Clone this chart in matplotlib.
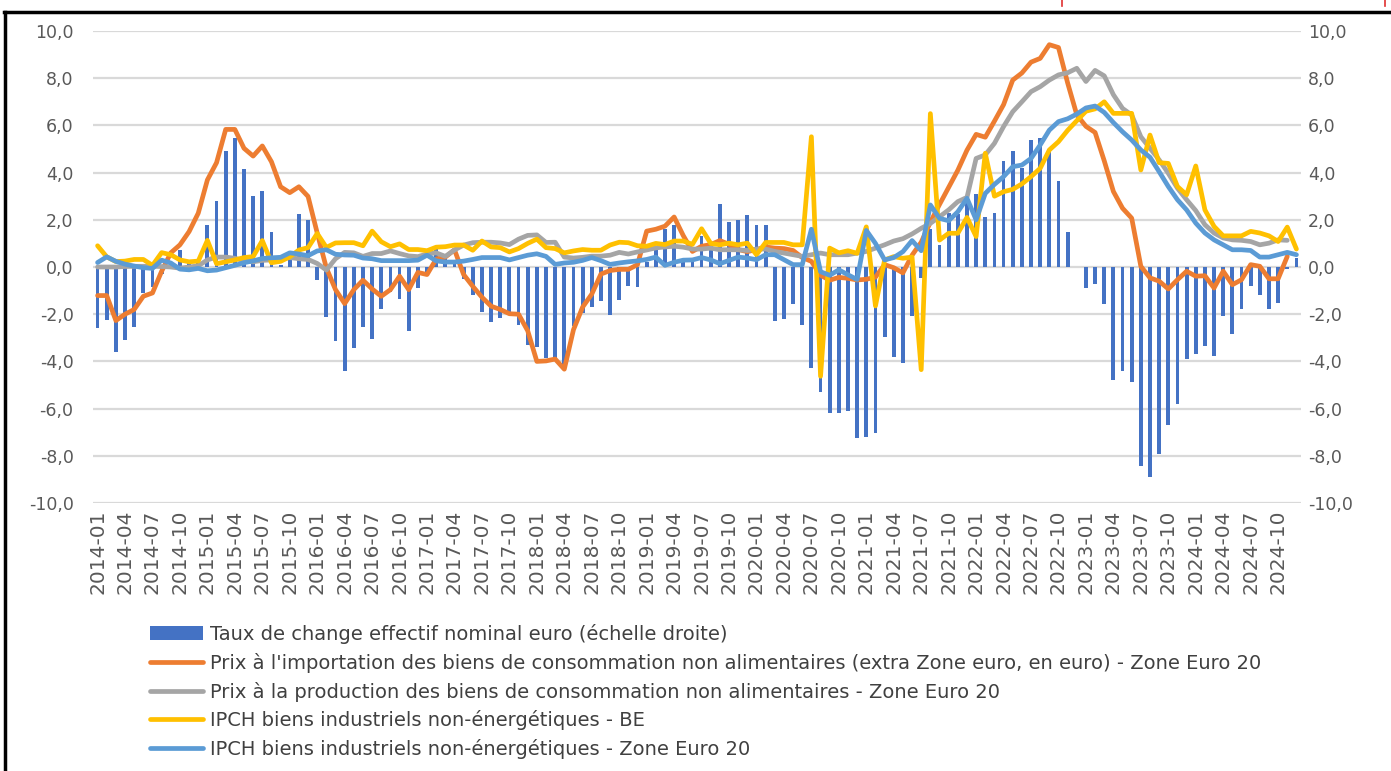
import numpy as np
import matplotlib
matplotlib.use("Agg")
import matplotlib.pyplot as plt
from matplotlib.lines import Line2D
from matplotlib.ticker import FuncFormatter, MultipleLocator

plt.rcParams['font.family'] = ['DejaVu Sans']

# Categories: monthly 2014-01 .. 2024-12
months = [f"{y}-{m:02d}" for y in range(2014, 2025) for m in range(1, 13)]

# Taux de change effectif nominal euro (échelle droite)
exchange_rate = [
    -2.6, -2.25, -3.6, -3.1, -2.55, -1.1, -0.85, -0.3, 0.1, 0.7, 0.3, 0.15,
    1.8, 2.8, 4.9, 5.45, 4.15, 3.0, 3.2, 1.5, 0.1, 0.3, 2.25, 2.0,
    -0.55, -2.1, -3.15, -4.4, -3.45, -2.55, -3.05, -1.8, -1.05, -1.35, -2.7, -0.9,
    -0.3, 0.9, 0.5, 0.2, -0.5, -1.2, -1.9, -2.35, -2.15, -1.95, -2.45, -3.3,
    -3.4, -3.85, -3.9, -4.2, -2.5, -1.95, -1.7, -1.45, -2.05, -1.4, -0.8, -0.85,
    0.2, 0.7, 1.6, 1.8, 0.3, 0.3, 1.3, 1.0, 2.65, 1.9, 2.0, 2.2,
    1.8, 1.8, -2.3, -2.2, -1.55, -2.45, -4.3, -5.3, -6.2, -6.2, -6.1, -7.25,
    -7.2, -7.05, -2.95, -3.8, -4.05, -2.07, -0.45, 1.6, 0.95, 2.3, 2.25, 2.7,
    3.1, 2.1, 2.3, 4.5, 4.9, 4.2, 5.4, 5.45, 5.0, 3.65, 1.5, 0.0,
    -0.88, -0.7, -1.58, -4.77, -4.4, -4.87, -8.42, -8.9, -7.93, -6.7, -5.8, -3.9,
    -3.68, -3.35, -3.75, -2.06, -2.82, -1.8, -0.82, -1.17, -1.8, -1.52, -0.1, 0.38,
]

# Prix à l'importation des biens de consommation non alimentaires
import_prices = [
    -1.21, -1.21, -2.27, -2.0, -1.8, -1.24, -1.1, -0.18, 0.6, 0.94, 1.5, 2.28,
    3.69, 4.42, 5.83, 5.83, 5.03, 4.7, 5.13, 4.46, 3.4, 3.15, 3.4, 2.99,
    1.44, -0.04, -0.96, -1.55, -0.96, -0.56, -0.93, -1.24, -0.96, -0.39, -0.96, -0.23,
    -0.32, 0.34, 0.42, 0.73, -0.32, -0.82, -1.28, -1.66, -1.8, -1.98, -2.0, -2.7,
    -4.0, -3.98, -3.9, -4.33, -2.66, -1.7, -1.15, -0.3, -0.15, -0.1, -0.1, 0.1,
    1.52, 1.6, 1.73, 2.12, 1.33, 0.66, 0.88, 0.95, 1.12, 0.96, 0.74, 0.65,
    0.74, 0.85, 0.8, 0.78, 0.7, 0.4, 0.24, -0.35, -0.56, -0.44, -0.48, -0.55,
    -0.52, -0.43, 0.1, -0.03, -0.25, 0.5, 1.05, 1.9, 2.65, 3.38, 4.1, 4.95,
    5.62, 5.5, 6.18, 6.88, 7.92, 8.22, 8.68, 8.84, 9.42, 9.3, 7.8, 6.45,
    5.96, 5.7, 4.5, 3.2, 2.49, 2.07, 0.03, -0.46, -0.6, -0.93, -0.54, -0.18,
    -0.39, -0.37, -0.89, -0.18, -0.75, -0.54, 0.1, 0.03, -0.5, -0.5, 0.45, np.nan,
]

# Prix à la production des biens de consommation non alimentaires
producer_prices = [
    0.0, 0.0, 0.0, 0.02, 0.03, 0.03, 0.03, 0.02, 0.0, -0.05, 0.0, 0.05,
    0.3, 0.42, 0.42, 0.37, 0.27, 0.22, 0.28, 0.3, 0.35, 0.4, 0.35, 0.32,
    0.15, -0.13, 0.35, 0.62, 0.6, 0.45, 0.57, 0.57, 0.68, 0.57, 0.47, 0.44,
    0.55, 0.6, 0.45, 0.72, 0.93, 1.03, 1.05, 1.05, 1.02, 0.95, 1.18, 1.34,
    1.36, 1.04, 1.05, 0.42, 0.38, 0.41, 0.46, 0.46, 0.5, 0.62, 0.55, 0.64,
    0.72, 0.81, 0.85, 0.88, 0.84, 0.76, 0.76, 0.8, 0.73, 0.73, 0.73, 0.7,
    0.76, 0.76, 0.66, 0.59, 0.52, 0.45, 0.52, 0.59, 0.52, 0.52, 0.52, 0.59,
    0.66, 0.8, 0.94, 1.1, 1.2, 1.4, 1.64, 1.85, 2.13, 2.42, 2.77, 2.95,
    4.6, 4.75, 5.24, 5.95, 6.58, 7.0, 7.43, 7.64, 7.92, 8.14, 8.23, 8.42,
    7.86, 8.33, 8.1, 7.3, 6.72, 6.44, 5.52, 5.03, 4.54, 3.97, 3.34, 2.85,
    2.39, 1.79, 1.44, 1.23, 1.15, 1.13, 1.08, 0.94, 1.01, 1.15, 1.13, np.nan,
]

# IPCH biens industriels non-énergétiques - BE
hicp_neig_be = [
    0.9, 0.43, 0.23, 0.25, 0.32, 0.32, 0.07, 0.61, 0.52, 0.3, 0.22, 0.25,
    1.13, 0.14, 0.22, 0.3, 0.4, 0.44, 1.12, 0.18, 0.24, 0.43, 0.72, 0.82,
    1.42, 0.83, 1.02, 1.03, 1.03, 0.9, 1.52, 1.07, 0.86, 0.98, 0.74, 0.74,
    0.69, 0.84, 0.86, 0.93, 0.93, 0.71, 1.1, 0.85, 0.82, 0.64, 0.78, 1.0,
    1.18, 0.82, 0.78, 0.6, 0.68, 0.74, 0.71, 0.71, 0.93, 1.05, 1.03, 0.9,
    0.88, 1.0, 0.95, 1.1, 1.1, 0.96, 1.62, 1.0, 0.94, 1.01, 0.94, 1.01,
    0.52, 1.04, 1.04, 1.04, 0.94, 0.94, 5.52, -4.63, 0.8, 0.6, 0.69, 0.58,
    1.7, -1.65, 0.3, 0.44, 0.37, 0.42, -4.35, 6.5, 1.14, 1.43, 1.43, 2.1,
    1.29, 4.82, 3.0, 3.19, 3.29, 3.52, 3.83, 4.18, 4.96, 5.31, 5.79, 6.2,
    6.6, 6.7, 7.0, 6.51, 6.51, 6.51, 4.11, 5.59, 4.42, 4.39, 3.41, 3.06,
    4.28, 2.42, 1.72, 1.32, 1.32, 1.32, 1.51, 1.44, 1.32, 1.08, 1.69, 0.76,
]

# IPCH biens industriels non-énergétiques - Zone Euro 20
hicp_neig_ea = [
    0.19, 0.43, 0.24, 0.12, 0.04, -0.03, -0.06, 0.29, 0.17, -0.09, -0.12, -0.06,
    -0.16, -0.13, -0.03, 0.07, 0.18, 0.26, 0.36, 0.39, 0.41, 0.6, 0.55, 0.48,
    0.68, 0.73, 0.54, 0.51, 0.5, 0.38, 0.35, 0.27, 0.27, 0.27, 0.27, 0.29,
    0.5, 0.26, 0.21, 0.21, 0.25, 0.32, 0.4, 0.4, 0.4, 0.3, 0.4, 0.5,
    0.56, 0.45, 0.11, 0.17, 0.2, 0.28, 0.4, 0.27, 0.11, 0.17, 0.22, 0.26,
    0.32, 0.42, 0.07, 0.2, 0.29, 0.3, 0.4, 0.3, 0.14, 0.28, 0.42, 0.38,
    0.31, 0.52, 0.52, 0.31, 0.1, 0.1, 1.6, -0.2, -0.35, -0.12, -0.33, -0.53,
    1.55, 1.0, 0.3, 0.4, 0.65, 1.12, 0.69, 2.63, 2.06, 1.96, 2.34, 2.91,
    2.0, 3.12, 3.5, 3.83, 4.25, 4.32, 4.6, 5.17, 5.8, 6.16, 6.28, 6.48,
    6.74, 6.82, 6.55, 6.12, 5.73, 5.38, 4.96, 4.65, 4.04, 3.41, 2.85, 2.42,
    1.86, 1.44, 1.15, 0.94, 0.73, 0.73, 0.7, 0.42, 0.42, 0.52, 0.62, 0.52,
]

series_labels = [
    "Taux de change effectif nominal euro (échelle droite)",
    "Prix à l'importation des biens de consommation non alimentaires (extra Zone euro, en euro) - Zone Euro 20",
    "Prix à la production des biens de consommation non alimentaires - Zone Euro 20",
    "IPCH biens industriels non-énergétiques - BE",
    "IPCH biens industriels non-énergétiques - Zone Euro 20",
]
bar_color = "#4472C4"
line_colors = ["#ED7D31", "#A5A5A5", "#FFC000", "#5B9BD5"]
line_series = [import_prices, producer_prices, hicp_neig_be, hicp_neig_ea]

W, H = 1391, 771
fig = plt.figure(figsize=(W / 100, H / 100), dpi=100)
fig.patch.set_facecolor("white")

left, right, bottom, top = 93 / W, 1301 / W, 1 - 503 / H, 1 - 31 / H
ax = fig.add_axes([left, bottom, right - left, top - bottom])
ax2 = ax.twinx()

x = np.arange(len(months))
fmt = FuncFormatter(lambda v, p: f"{v:.1f}".replace(".", ","))
label_col = "#595959"

for a in (ax, ax2):
    a.set_ylim(-10, 10)
    a.set_xlim(-0.5, len(months) - 0.5)
    a.yaxis.set_major_locator(MultipleLocator(2))
    a.yaxis.set_major_formatter(fmt)
    for s in a.spines.values():
        s.set_visible(False)

# bars on the secondary (right) axis
bars = ax2.bar(x, exchange_rate, width=0.42, color=bar_color, zorder=2)

ax.set_zorder(ax2.get_zorder() + 1)
ax.patch.set_visible(False)
ax2.grid(axis="y", color="#D9D9D9", linewidth=1.6)
ax2.set_axisbelow(True)

lines = []
for vals, col, lab in zip(line_series, line_colors, series_labels[1:]):
    ln, = ax.plot(x, vals, color=col, linewidth=3.4, solid_joinstyle="round",
                  solid_capstyle="round", label=lab, zorder=3)
    lines.append(ln)

ax.tick_params(axis="y", length=0, pad=14, labelsize=12.5, labelcolor=label_col)
ax2.tick_params(axis="y", length=0, pad=5, labelsize=12.5, labelcolor=label_col)

tick_pos = x[::3]
ax.set_xticks(tick_pos)
ax.set_xticklabels([months[i] for i in tick_pos], rotation=90)
ax.tick_params(axis="x", length=0, pad=5, labelsize=14.5, labelcolor=label_col)
ax2.tick_params(axis="x", length=0)

handles = [bars] + lines
leg = fig.legend(handles, series_labels, loc="upper left",
                 bbox_to_anchor=(150 / W, 1 - 624 / H), frameon=False,
                 fontsize=14, handlelength=2.73, handletextpad=0.36,
                 labelspacing=0.45, borderaxespad=0, borderpad=0)
for t in leg.get_texts():
    t.set_color("#404040")

# outer frame (partial black border) and red marks at top right
fig.add_artist(Line2D([5 / W, 5 / W], [0, 1 - 12 / H], color="black", linewidth=2.5,
                      transform=fig.transFigure))
fig.add_artist(Line2D([4 / W, 1], [1 - 12 / H, 1 - 12 / H], color="black", linewidth=2.5,
                      transform=fig.transFigure))
for xr in (1062, 1385):
    fig.add_artist(Line2D([xr / W, xr / W], [1, 1 - 6 / H], color="#E03030", linewidth=1.2,
                          transform=fig.transFigure))

fig.savefig("out.png", dpi=100, facecolor="white")
